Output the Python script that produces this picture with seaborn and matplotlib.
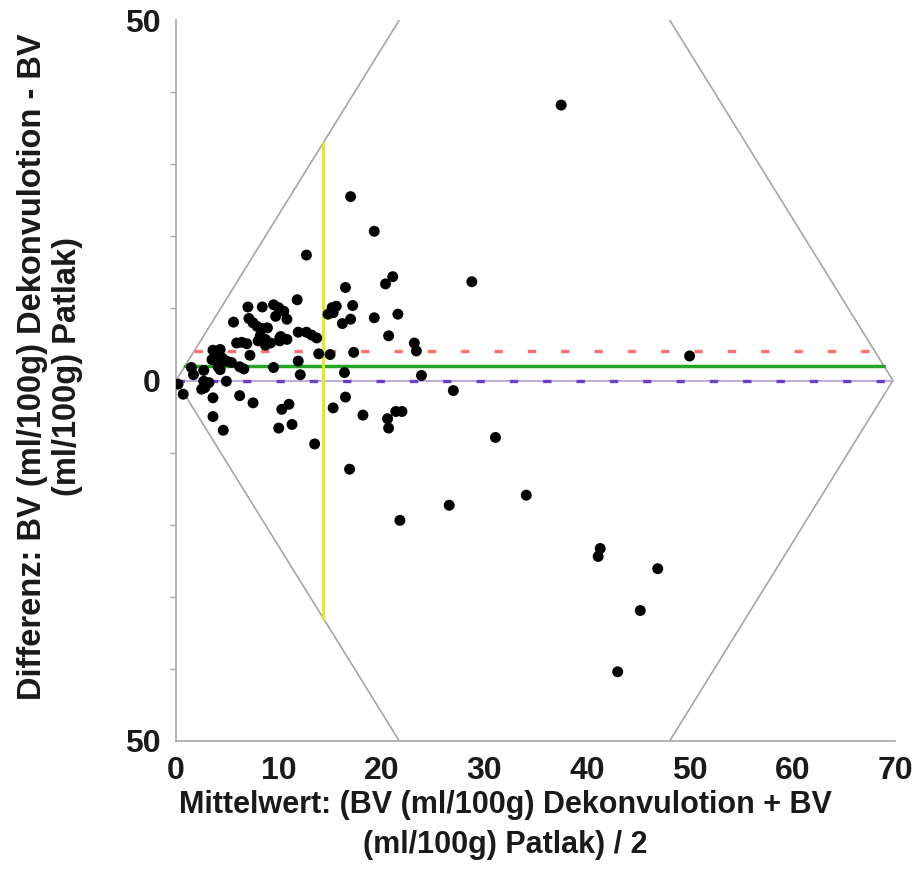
import numpy as np
import pandas as pd
import matplotlib
matplotlib.use("Agg")
import matplotlib.pyplot as plt
from matplotlib import font_manager
import seaborn as sns

# Mean of the two methods (x) and their difference (y), BV in ml/100g
mean_bv = [
    0.2, 0.7, 1.5, 1.7, 2.7, 2.7, 3.2, 2.8, 2.5, 4.9,
    3.6, 6.2, 7.5, 3.6, 4.6, 3.6, 4.3, 3.9, 4.5, 3.5,
    4.9, 5.4, 7.2, 6.2, 6.6, 4.1, 4.3, 5.9, 6.4, 8.0,
    8.7, 9.2, 10.2, 10.1, 5.6, 7.1, 7.5, 7.9, 8.4, 8.9,
    9.7, 10.8, 7.0, 8.4, 9.5, 10.0, 10.5, 11.8, 11.9, 12.7,
    13.2, 13.7, 9.5, 11.9, 12.1, 10.3, 11.0, 10.0, 11.3, 13.5,
    12.7, 17.0, 19.3, 21.1, 20.4, 16.5, 17.2, 15.2, 15.6, 14.8,
    15.3, 17.0, 16.2, 19.3, 21.6, 20.7, 13.9, 15.0, 17.3, 23.2,
    23.4, 16.4, 23.9, 16.5, 15.3, 18.2, 20.6, 20.7, 21.4, 22.0,
    16.9, 21.8, 26.6, 31.1, 34.1, 41.3, 41.1, 46.9, 45.2, 43.0,
    37.5, 28.8, 50.0, 27.0, 6.9, 8.2, 8.7, 10.1, 10.8,
]
diff_bv = [
    -0.5, -1.9, 1.8, 0.8, 1.4, -0.1, -0.3, -1.0, -1.2, -0.1,
    -2.4, -2.1, -3.1, -5.0, -6.9, 4.2, 4.3, 3.4, 3.1, 2.9,
    2.7, 2.5, 3.5, 1.9, 1.6, 1.9, 1.5, 5.2, 5.3, 5.5,
    5.7, 5.2, 6.1, 5.5, 8.1, 8.6, 8.0, 7.5, 7.2, 7.3,
    8.9, 8.5, 10.2, 10.2, 10.5, 10.1, 9.6, 11.2, 6.7, 6.7,
    6.3, 5.9, 1.8, 2.7, 0.8, -4.0, -3.3, -6.6, -6.1, -8.8,
    17.4, 25.5, 20.7, 14.4, 13.4, 12.9, 10.4, 10.1, 10.3, 9.2,
    9.4, 8.5, 7.9, 8.7, 9.2, 6.2, 3.7, 3.6, 3.9, 5.2,
    4.1, 1.1, 0.7, -2.3, -3.8, -4.8, -5.3, -6.6, -4.3, -4.3,
    -12.3, -19.4, -17.3, -7.9, -15.9, -23.3, -24.4, -26.1, -31.9, -40.4,
    38.2, 13.7, 3.4, -1.4, 5.1, 6.2, 4.9, 5.9, 5.7,
]

# Summary lines
mean_diff = 2.0      # mean difference
ci_upper = 4.05      # upper 95% confidence limit of the mean difference
ci_lower = 0.0       # lower 95% confidence limit of the mean difference
mean_of_means = 14.3 # mean of the x values

# Edges of the rotated frame of the original axes
edge_slope = 2.3
right_vertex = 69.8

x_ticks = [0, 10, 20, 30, 40, 50, 60, 70]
y_ticks = [-50, 0, 50]
y_tick_labels = ["50", "0", "50"]

df = pd.DataFrame({"mean": mean_bv, "diff": diff_bv})

sns.set_style("white")
plt.rcParams["font.family"] = ["Liberation Sans", "DejaVu Sans"]

installed = {f.name for f in font_manager.fontManager.ttflist}
tick_family = "Liberation Sans Narrow" if "Liberation Sans Narrow" in installed else "Liberation Sans"

fig = plt.figure(figsize=(9.16, 8.86), dpi=100)
ax = fig.add_axes([176 / 916, 1 - 741 / 886, (895 - 176) / 916, (741 - 20) / 886])

grey = "#a6a6a6"

# Rotated frame (diamond)
top = (right_vertex / 2, edge_slope * right_vertex / 2)
frame_x = [0, top[0], right_vertex, top[0], 0]
frame_y = [0, top[1], 0, -top[1], 0]
ax.plot(frame_x, frame_y, color=grey, lw=1.2, zorder=1)

# Reference line at zero difference
ax.plot([0, right_vertex], [0, 0], color="#b7a6d9", lw=1.3, zorder=2)

def span(v):
    off = abs(v) / edge_slope
    return [off, right_vertex - off]

# Confidence limits (dashed) and mean difference (solid)
ax.plot(span(ci_upper), [ci_upper] * 2, color="#ff6f6f", lw=2.4,
        dashes=(2.5, 7.5), zorder=2)
ax.plot(span(ci_lower), [ci_lower] * 2, color="#6a3fd0", lw=2.4,
        dashes=(2.5, 7.5), zorder=2)
ax.plot(span(mean_diff), [mean_diff] * 2, color="#27a327", lw=2.5, zorder=2)

# Vertical line at the mean of the x values
yl = edge_slope * mean_of_means
ax.plot([mean_of_means] * 2, [-yl, yl], color="#e8e820", lw=2.2, zorder=2)

sns.scatterplot(data=df, x="mean", y="diff", ax=ax, color="black",
                s=62, edgecolor="none", zorder=3, legend=False)

ax.set_xlim(0, 70)
ax.set_ylim(-50, 50)
ax.set_xticks(x_ticks)
ax.set_xticklabels([str(t) for t in x_ticks])
ax.set_yticks(y_ticks)
ax.set_yticklabels(y_tick_labels)
ax.set_yticks(np.arange(-40, 50, 10), minor=True)
ax.set_xlabel("")
ax.set_ylabel("")

for side in ["top", "right"]:
    ax.spines[side].set_visible(False)
for side in ["left", "bottom"]:
    ax.spines[side].set_color(grey)
    ax.spines[side].set_linewidth(1.2)

ax.tick_params(axis="both", which="major", direction="out", length=7,
               width=1.1, color=grey, pad=4)
ax.tick_params(axis="y", which="minor", direction="out", length=4,
               width=1.0, color=grey, left=True)
for lab in ax.get_xticklabels() + ax.get_yticklabels():
    lab.set_family([tick_family, "DejaVu Sans"])
    lab.set_fontweight("bold")
    lab.set_fontsize(23)
    lab.set_color("#1a1a1a")

fig.text(505 / 916, 1 - 825 / 886,
         "Mittelwert: (BV (ml/100g) Dekonvulotion + BV\n(ml/100g) Patlak) / 2",
         ha="center", va="center", fontsize=22, fontweight="bold",
         color="#1a1a1a", linespacing=1.4)
fig.text(50 / 916, 1 - 367 / 886,
         "Differenz: BV (ml/100g) Dekonvulotion - BV\n(ml/100g) Patlak)",
         ha="center", va="center", rotation=90, fontsize=23.5,
         fontweight="bold", color="#1a1a1a", linespacing=1.2)

fig.savefig("out.png", dpi=100)
